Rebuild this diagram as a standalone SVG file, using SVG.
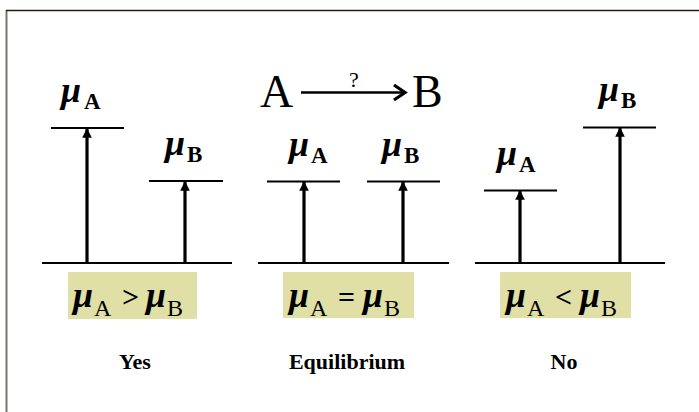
<svg xmlns="http://www.w3.org/2000/svg" width="699" height="412" viewBox="0 0 699 412">
<defs>
<marker id="ah" viewBox="0 0 10 10" refX="9" refY="5" markerWidth="3" markerHeight="3" orient="auto" markerUnits="strokeWidth">
<path d="M0,0 L10,5 L0,10 Z" fill="#000"/>
</marker>
</defs>
<style>
.lvl{stroke:#000;stroke-width:2;fill:none}
.base{stroke:#000;stroke-width:2;fill:none}
.arr{stroke:#000;stroke-width:3.2;fill:none;marker-end:url(#ah)}
.mu{font-family:"Liberation Serif","DejaVu Serif",serif;font-style:italic;font-weight:bold;font-size:36px;fill:#000}
.sub{font-family:"Liberation Serif","DejaVu Serif",serif;font-style:normal;font-weight:bold;font-size:23px;fill:#000}
.fmu{font-family:"Liberation Serif","DejaVu Serif",serif;font-style:italic;font-weight:bold;font-size:36px;fill:#000}
.fsub{font-family:"Liberation Serif","DejaVu Serif",serif;font-style:normal;font-weight:normal;font-size:24px;fill:#000}
.op{font-family:"Liberation Serif","DejaVu Serif",serif;font-weight:bold;font-size:30px;fill:#000}
.box{fill:#dfdfa6}
.cap{font-family:"Liberation Serif","DejaVu Serif",serif;font-weight:bold;font-size:22px;fill:#000;text-anchor:middle}
.big{font-family:"Liberation Serif","DejaVu Serif",serif;font-size:46px;fill:#000}
</style>
<rect width="699" height="412" fill="#fff"/>
<line x1="6.5" y1="10" x2="6.5" y2="412" stroke="#7a766a" stroke-width="2"/>
<line x1="6" y1="10.5" x2="699" y2="10.5" stroke="#2a1a10" stroke-width="1.5"/>

<g id="header">
<text class="big" x="260" y="107">A</text>
<text class="big" x="412" y="107">B</text>
<text x="354" y="87" font-family="Liberation Serif,serif" font-size="22" text-anchor="middle">?</text>
</g>

<g id="connectors">
<line x1="301" y1="92.5" x2="403" y2="92.5" stroke="#000" stroke-width="2.5"/>
<path d="M394,85 L405,92.5 L394,100" stroke="#000" stroke-width="3.2" fill="none"/>
<line class="arr" x1="87" y1="263" x2="87" y2="129"/>
<line class="arr" x1="185" y1="263" x2="185" y2="182"/>
<line class="arr" x1="304" y1="263" x2="304" y2="182"/>
<line class="arr" x1="403" y1="263" x2="403" y2="182"/>
<line class="arr" x1="520" y1="263" x2="520" y2="191"/>
<line class="arr" x1="620" y1="263" x2="620" y2="128"/>
</g>

<g id="yes">
<line class="base" x1="42" y1="263" x2="232" y2="263"/>
<line class="lvl" x1="51" y1="128" x2="124" y2="128"/>
<line class="lvl" x1="149" y1="181" x2="223" y2="181"/>
<text class="mu" x="61" y="102">μ</text><text class="sub" x="84" y="109">A</text>
<text class="mu" x="165" y="155">μ</text><text class="sub" x="187" y="162">B</text>
<rect class="box" x="68" y="272" width="129" height="47"/>
<text class="fmu" x="73" y="307">μ</text><text class="fsub" x="94" y="316">A</text>
<text class="op" x="122" y="307">&gt;</text>
<text class="fmu" x="146" y="307">μ</text><text class="fsub" x="167" y="316">B</text>
<text class="cap" x="135" y="369">Yes</text>
</g>

<g id="equilibrium">
<line class="base" x1="258" y1="263" x2="449" y2="263"/>
<line class="lvl" x1="267" y1="181.5" x2="340" y2="181.5"/>
<line class="lvl" x1="367" y1="181.5" x2="440" y2="181.5"/>
<text class="mu" x="289" y="156">μ</text><text class="sub" x="311" y="163">A</text>
<text class="mu" x="382" y="156">μ</text><text class="sub" x="404" y="163">B</text>
<rect class="box" x="283" y="272" width="131" height="46"/>
<text class="fmu" x="289" y="307">μ</text><text class="fsub" x="310" y="316">A</text>
<text class="op" x="338" y="307">=</text>
<text class="fmu" x="363" y="307">μ</text><text class="fsub" x="384" y="316">B</text>
<text class="cap" x="347" y="369">Equilibrium</text>
</g>

<g id="no">
<line class="base" x1="475" y1="263" x2="665" y2="263"/>
<line class="lvl" x1="484" y1="190.5" x2="557" y2="190.5"/>
<line class="lvl" x1="583" y1="127.5" x2="656" y2="127.5"/>
<text class="mu" x="497" y="165">μ</text><text class="sub" x="519" y="172">A</text>
<text class="mu" x="599" y="101">μ</text><text class="sub" x="621" y="108">B</text>
<rect class="box" x="500" y="272" width="131" height="46"/>
<text class="fmu" x="506" y="307">μ</text><text class="fsub" x="527" y="316">A</text>
<text class="op" x="555" y="307">&lt;</text>
<text class="fmu" x="580" y="307">μ</text><text class="fsub" x="601" y="316">B</text>
<text class="cap" x="564" y="369">No</text>
</g>
</svg>
